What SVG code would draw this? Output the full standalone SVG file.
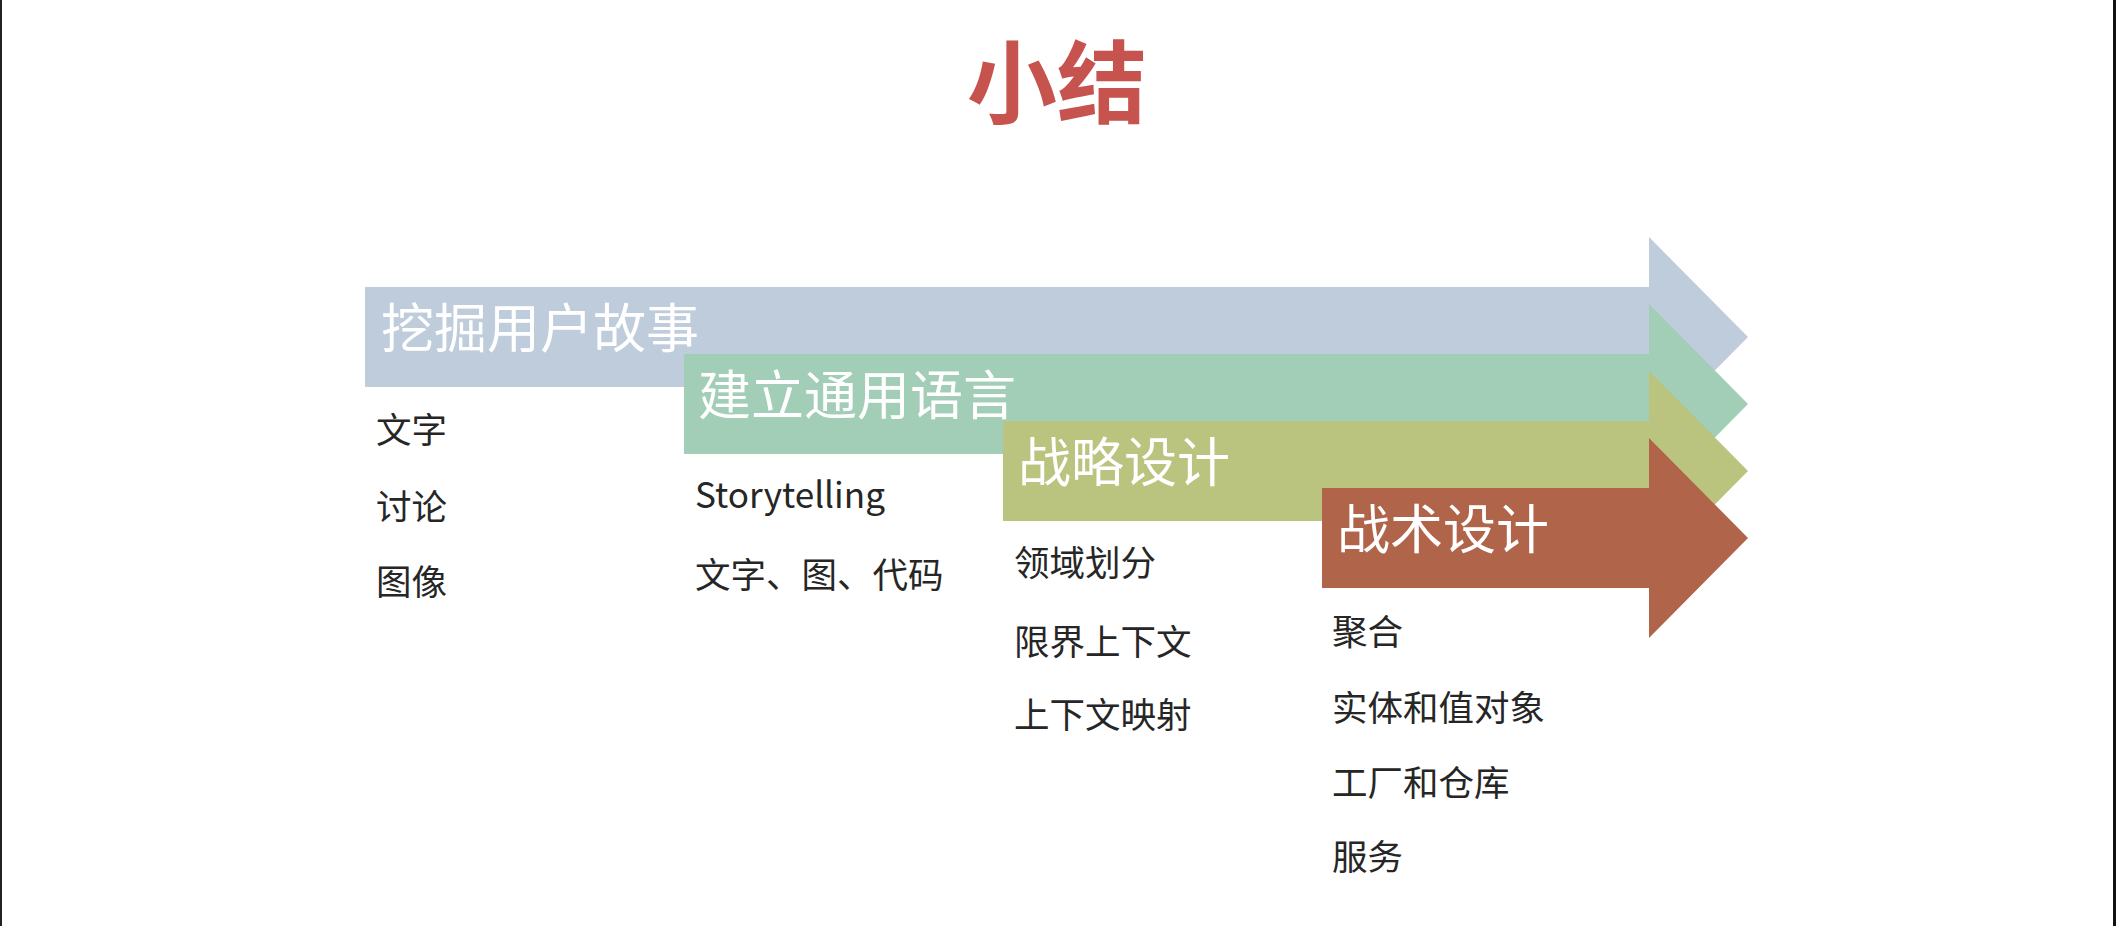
<svg xmlns="http://www.w3.org/2000/svg" width="2116" height="926" viewBox="0 0 2116 926">
  <style>
    .title { font-family: "Noto Sans CJK SC", "Liberation Sans", sans-serif; font-size: 90px; font-weight: 700; fill: #C6534E; }
    .label { font-family: "Noto Sans CJK SC", "Liberation Sans", sans-serif; font-size: 53px; fill: #FFFFFF; }
    .item { font-family: "Noto Sans CJK SC", "Liberation Sans", sans-serif; font-size: 35.5px; fill: #262626; }
  </style>
  <rect x="0" y="0" width="2116" height="926" fill="#FFFFFF"/>
  <rect x="0" y="0" width="2" height="926" fill="#222222"/>
  <rect x="2113" y="0" width="3" height="926" fill="#111111"/>

  <text class="title" x="1057" y="116" text-anchor="middle">小结</text>

  <g id="connectors"></g>

  <g id="node-story">
    <path d="M365,287 H1649 V237 L1748,337 L1649,437 V387 H365 Z" fill="#BFCCDC"/>
    <text class="label" x="381" y="348">挖掘用户故事</text>
  </g>
  <g id="node-language">
    <path d="M684,354 H1649 V304 L1748,404 L1649,504 V454 H684 Z" fill="#A2CDB6"/>
    <text class="label" x="698" y="415">建立通用语言</text>
  </g>
  <g id="node-strategic">
    <path d="M1003,421 H1649 V371 L1748,471 L1649,571 V521 H1003 Z" fill="#BAC47E"/>
    <text class="label" x="1018" y="482">战略设计</text>
  </g>
  <g id="node-tactical">
    <path d="M1322,488 H1649 V438 L1748,538 L1649,638 V588 H1322 Z" fill="#B0644A"/>
    <text class="label" x="1337" y="549">战术设计</text>
  </g>

  <g id="list-story">
    <text class="item" x="376" y="443">文字</text>
    <text class="item" x="376" y="520">讨论</text>
    <text class="item" x="376" y="595">图像</text>
  </g>
  <g id="list-language">
    <text class="item" x="695" y="508" textLength="190" lengthAdjust="spacingAndGlyphs">Storytelling</text>
    <text class="item" x="695" y="588">文字、图、代码</text>
  </g>
  <g id="list-strategic">
    <text class="item" x="1014" y="576">领域划分</text>
    <text class="item" x="1014" y="655">限界上下文</text>
    <text class="item" x="1014" y="728">上下文映射</text>
  </g>
  <g id="list-tactical">
    <text class="item" x="1332" y="645">聚合</text>
    <text class="item" x="1332" y="721">实体和值对象</text>
    <text class="item" x="1332" y="796">工厂和仓库</text>
    <text class="item" x="1332" y="870">服务</text>
  </g>
</svg>
